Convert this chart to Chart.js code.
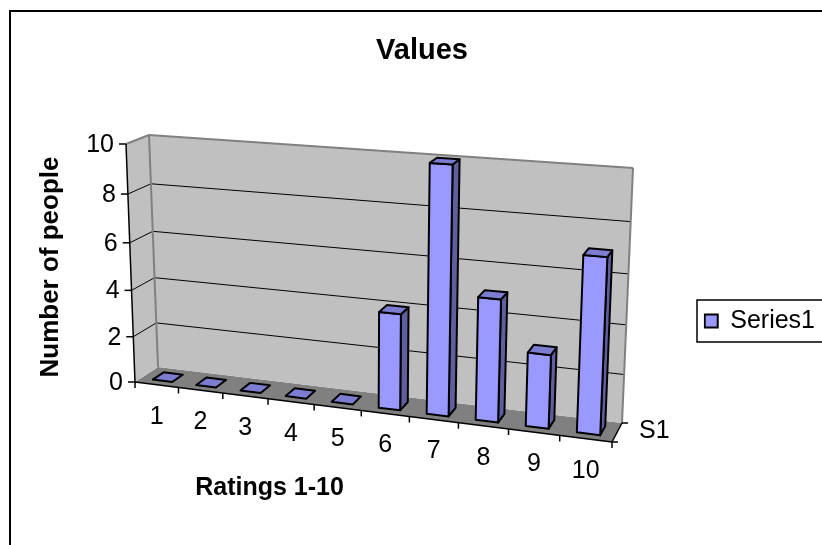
<!DOCTYPE html>
<html>
<head>
<meta charset="utf-8">
<style>
  html, body { margin: 0; padding: 0; background: #fff; overflow: hidden; }
  canvas { display: block; }
</style>
<script src="https://cdn.jsdelivr.net/npm/chart.js@4/dist/chart.umd.js"></script>
</head>
<body>
<canvas id="chart" width="822" height="545"></canvas>
<script>
const chartTitle = 'Values';
const categories = ['1', '2', '3', '4', '5', '6', '7', '8', '9', '10'];
const seriesName = 'Series1';
const seriesValues = [0, 0, 0, 0, 0, 4, 10, 5, 3, 7];
const depthLabel = 'S1';
const valueAxisTitle = 'Number of people';
const categoryAxisTitle = 'Ratings 1-10';

const FONT = '"Liberation Sans", Arial, sans-serif';
const TICK_FONT = '25px ' + FONT;
const VALUE_TITLE_FONT = 'bold 26px ' + FONT;
const CATEGORY_TITLE_FONT = 'bold 25px ' + FONT;

// Screen positions of the eight corners of the plot box.
// Key order: f/b = front/back, l/r = left/right, 0/1 = floor/top.
const box = {
  fl0: [135, 382], fr0: [612, 442], bl0: [158, 367], br0: [622, 423],
  fl1: [126, 144], fr1: [623, 180], bl1: [149, 135], br1: [633, 168]
};
const barDepth = [0.26, 0.74];

// Foreshortening along the category and value directions.
const warp = (t, a) => t / (a + (1 - a) * t);
const CATEGORY_WARP = 1.108;
const VALUE_WARP = 1.065;

// Maps (X, Y, Z) in the unit cube to the page: X along categories,
// Y up the values, Z from front (0) to back (1).
function project(X, Y, Z) {
  const u = warp(X, CATEGORY_WARP), v = warp(Y, VALUE_WARP);
  const mix = (a, b, t) => a + (b - a) * t;
  return [0, 1].map(k => {
    const floor = mix(mix(box.fl0[k], box.fr0[k], u), mix(box.bl0[k], box.br0[k], u), Z);
    const top = mix(mix(box.fl1[k], box.fr1[k], u), mix(box.bl1[k], box.br1[k], u), Z);
    return mix(floor, top, v);
  });
}

function polygon(ctx, pts, fill, stroke, lineWidth) {
  ctx.beginPath();
  pts.forEach((p, i) => (i ? ctx.lineTo(p[0], p[1]) : ctx.moveTo(p[0], p[1])));
  ctx.closePath();
  if (fill) { ctx.fillStyle = fill; ctx.fill(); }
  if (stroke) { ctx.strokeStyle = stroke; ctx.lineWidth = lineWidth; ctx.stroke(); }
}
function segment(ctx, a, b, color, lineWidth) {
  ctx.beginPath();
  ctx.moveTo(a[0], a[1]);
  ctx.lineTo(b[0], b[1]);
  ctx.strokeStyle = color;
  ctx.lineWidth = lineWidth;
  ctx.stroke();
}
function label(ctx, text, x, y, align, font) {
  ctx.font = font;
  ctx.fillStyle = '#000';
  ctx.textAlign = align;
  ctx.textBaseline = 'middle';
  ctx.fillText(text, x, y);
}

// Normalised position on the value scale, and on the category scale.
const valueFrac = (scale, px) => (scale.bottom - px) / (scale.bottom - scale.top);
const catFrac = (scale, px) => (px - scale.left) / (scale.right - scale.left);

const perspectivePlot = {
  id: 'perspectivePlot',
  beforeDraw(chart) {
    const { ctx, width, height } = chart;
    ctx.save();
    ctx.fillStyle = '#fff';
    ctx.fillRect(0, 0, width, height);
    ctx.strokeStyle = '#000';
    ctx.lineWidth = 2;
    ctx.beginPath();
    ctx.moveTo(10, height + 2);
    ctx.lineTo(10, 11);
    ctx.lineTo(width + 2, 11);
    ctx.stroke();
    ctx.restore();
  },
  beforeDatasetsDraw(chart) {
    const { ctx } = chart;
    const yScale = chart.scales.y, xScale = chart.scales.x;
    ctx.save();
    ctx.lineJoin = 'round';

    // Walls and floor
    polygon(ctx, [project(0,0,0), project(1,0,0), project(1,0,1), project(0,0,1)], '#808080');
    polygon(ctx, [project(0,0,0), project(0,0,1), project(0,1,1), project(0,1,0)], '#C0C0C0');
    polygon(ctx, [project(0,0,1), project(1,0,1), project(1,1,1), project(0,1,1)], '#C0C0C0');

    // Gridlines at each value tick, along the side wall then the back wall
    yScale.ticks.forEach(t => {
      if (t.value === 0 || t.value === yScale.max) return;
      const Y = valueFrac(yScale, yScale.getPixelForValue(t.value));
      segment(ctx, project(0,Y,0), project(0,Y,1), '#000', 1);
      segment(ctx, project(0,Y,1), project(1,Y,1), '#000', 1);
    });

    // Wall outlines
    segment(ctx, project(0,1,0), project(0,1,1), '#808080', 2);
    segment(ctx, project(0,1,1), project(1,1,1), '#808080', 2);
    segment(ctx, project(1,1,1), project(1,0,1), '#808080', 2);
    segment(ctx, project(0,1,1), project(0,0,1), '#808080', 2);

    // Axis lines
    segment(ctx, project(0,0,0), project(0,1,0), '#000', 1.5);
    segment(ctx, project(0,0,0), project(1,0,0), '#000', 1.5);
    segment(ctx, project(1,0,0), project(1,0,1), '#000', 1.5);

    // Value axis ticks and labels
    yScale.ticks.forEach(t => {
      const Y = valueFrac(yScale, yScale.getPixelForValue(t.value));
      const p = project(0, Y, 0);
      segment(ctx, [p[0] - 7, p[1]], p, '#000', 1.5);
      label(ctx, t.label, p[0] - 12, p[1] + 1, 'right', TICK_FONT);
    });

    // Category axis ticks and labels
    const count = categories.length;
    for (let i = 0; i <= count; i++) {
      const p = project(i / count, 0, 0);
      segment(ctx, p, [p[0], p[1] + 6], '#000', 1.5);
    }
    categories.forEach((name, i) => {
      const X = catFrac(xScale, xScale.getPixelForValue(i));
      const p = project(X, 0, 0);
      label(ctx, name, p[0], p[1] + 32, 'center', TICK_FONT);
    });

    // Depth axis ticks and series label
    const front = project(1,0,0), back = project(1,0,1);
    segment(ctx, front, [front[0] + 6, front[1]], '#000', 1.5);
    segment(ctx, back, [back[0] + 6, back[1]], '#000', 1.5);
    label(ctx, depthLabel, (front[0] + back[0]) / 2 + 22, (front[1] + back[1]) / 2 - 1, 'left', TICK_FONT);

    // Axis titles
    ctx.save();
    ctx.translate(51, 267);
    ctx.rotate(-Math.PI / 2);
    label(ctx, valueAxisTitle, 0, 0, 'center', VALUE_TITLE_FONT);
    ctx.restore();
    label(ctx, categoryAxisTitle, 269.5, 488, 'center', CATEGORY_TITLE_FONT);
    ctx.restore();
  },
  // Bars are drawn as prisms from the positions the bar controller computed.
  beforeDatasetDraw(chart, args) {
    const { ctx } = chart;
    const meta = args.meta;
    const yScale = chart.scales.y, xScale = chart.scales.x;
    const ds = chart.data.datasets[args.index];
    const [z0, z1] = barDepth;
    ctx.save();
    ctx.lineJoin = 'round';
    meta.data.forEach(bar => {
      const props = bar.getProps(['x', 'y', 'base', 'width'], true);
      const X0 = catFrac(xScale, props.x - props.width / 2);
      const X1 = catFrac(xScale, props.x + props.width / 2);
      const Y0 = valueFrac(yScale, props.base);
      const Y1 = valueFrac(yScale, props.y);
      if (Y1 > Y0) {
        polygon(ctx, [project(X1,Y0,z0), project(X1,Y0,z1), project(X1,Y1,z1), project(X1,Y1,z0)], ds.sideColor, '#000', 2);
        polygon(ctx, [project(X0,Y0,z0), project(X1,Y0,z0), project(X1,Y1,z0), project(X0,Y1,z0)], ds.backgroundColor, '#000', 2);
      }
      polygon(ctx, [project(X0,Y1,z0), project(X1,Y1,z0), project(X1,Y1,z1), project(X0,Y1,z1)], ds.topColor, '#000', 2);
    });
    ctx.restore();
    return false;
  },
  afterDraw(chart) {
    // Frame around the legend, open at the right edge of the page
    const { ctx, legend, width } = chart;
    const item = legend.legendHitBoxes[0];
    const cy = item.top + item.height / 2;
    ctx.save();
    ctx.strokeStyle = '#000';
    ctx.lineWidth = 1.5;
    ctx.beginPath();
    ctx.moveTo(width + 2, cy - 21);
    ctx.lineTo(697, cy - 21);
    ctx.lineTo(697, cy + 21);
    ctx.lineTo(width + 2, cy + 21);
    ctx.stroke();
    ctx.restore();
  }
};

new Chart(document.getElementById('chart'), {
  type: 'bar',
  plugins: [perspectivePlot],
  data: {
    labels: categories,
    datasets: [{
      label: seriesName,
      data: seriesValues,
      backgroundColor: '#9999FF',
      borderColor: '#000',
      borderWidth: 2,
      sideColor: '#5F5FA0',
      topColor: '#7C7CD0',
      categoryPercentage: 1,
      barPercentage: 0.45
    }]
  },
  options: {
    responsive: false,
    animation: false,
    devicePixelRatio: 1,
    layout: { padding: { left: 19, right: -3, top: 22, bottom: 0 } },
    scales: {
      x: { display: false, offset: true },
      y: { display: false, min: 0, max: 10, ticks: { stepSize: 2 } }
    },
    plugins: {
      tooltip: { enabled: false },
      title: {
        display: true,
        text: chartTitle,
        color: '#000',
        font: { family: FONT, size: 29, weight: 'bold' },
        padding: { top: 12, bottom: 28 }
      },
      legend: {
        position: 'right',
        fullSize: false,
        labels: {
          color: '#000',
          boxWidth: 13,
          boxHeight: 13,
          padding: 1,
          font: { family: FONT, size: 25 }
        }
      }
    }
  }
});
</script>
</body>
</html>
